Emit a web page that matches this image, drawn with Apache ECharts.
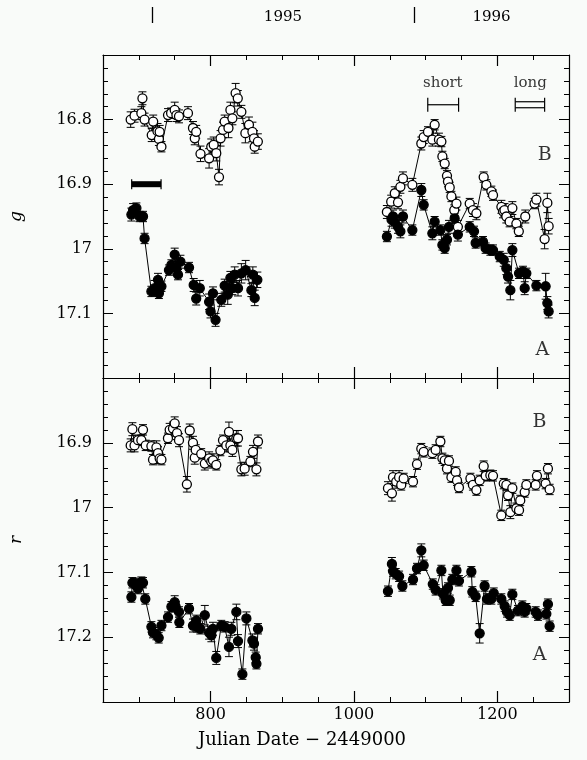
<!DOCTYPE html>
<html>
<head>
<meta charset="utf-8">
<script src="https://cdn.jsdelivr.net/npm/echarts@6/dist/echarts.min.js"></script>
<style>
  html, body { margin: 0; padding: 0; background: #f9fbf9; }
  #chart { width: 587px; height: 760px; }
</style>
</head>
<body>
<div id="chart"></div>
<script>
// Light curves of the two images, [JD - 2449000, magnitude, error]

// g band, image B (open), 1994-95 season
const gB1 = [
  [688.6,16.800,0.012],[694,16.794,0.010],[703.5,16.790,0.010],[705,16.767,0.010],[708,16.800,0.010],
  [718,16.824,0.010],[720,16.803,0.010],[726,16.818,0.012],[728,16.830,0.010],[729,16.819,0.010],
  [731.5,16.842,0.008],[740.7,16.793,0.010],[745,16.790,0.008],[750,16.785,0.012],[752.4,16.793,0.010],
  [756,16.795,0.010],[768.5,16.790,0.010],[775.5,16.813,0.010],[778,16.829,0.010],[780,16.819,0.010],
  [786,16.853,0.012],[798,16.860,0.015],[801,16.842,0.012],[804.4,16.839,0.012],[808,16.852,0.012],
  [811.8,16.889,0.012],[814,16.829,0.012],[817.4,16.816,0.012],[819.7,16.803,0.010],[825,16.813,0.015],
  [827.7,16.785,0.012],[830.5,16.798,0.010],[835,16.759,0.015],[838,16.767,0.012],[843,16.788,0.010],
  [848.6,16.821,0.015],[853.6,16.808,0.012],[858.4,16.819,0.015],[860.6,16.829,0.012],[861.6,16.842,0.010],
  [866,16.834,0.012]
];
// g band, image A (filled), 1994-95 season
const gA1 = [
  [689.6,16.947,0.010],[692,16.940,0.010],[696.6,16.937,0.008],[701,16.950,0.008],[705.8,16.950,0.008],
  [708,16.984,0.008],[717.5,17.066,0.008],[722,17.061,0.012],[726.7,17.048,0.010],[728,17.069,0.008],
  [731.5,17.058,0.008],[742,17.033,0.008],[745.4,17.025,0.008],[750,17.009,0.010],[752.4,17.030,0.010],
  [754.6,17.040,0.008],[758,17.020,0.010],[770,17.029,0.008],[776.5,17.056,0.010],[780,17.077,0.010],
  [785,17.061,0.012],[798,17.082,0.012],[800,17.097,0.010],[803.4,17.069,0.010],[807,17.110,0.010],
  [815,17.079,0.010],[819.7,17.057,0.010],[824,17.071,0.015],[827.7,17.045,0.010],[830.5,17.061,0.010],
  [833.7,17.040,0.012],[838.3,17.061,0.012],[843,17.038,0.015],[849,17.033,0.015],[857,17.064,0.010],
  [859,17.040,0.012],[861.6,17.076,0.012],[865.3,17.048,0.012]
];
// g band, image B (open), 1995-96 season
const gB2 = [
  [1046,16.943,0.010],[1052,16.927,0.010],[1057,16.914,0.010],[1061.5,16.928,0.010],[1064.8,16.904,0.010],
  [1068.4,16.891,0.010],[1081.5,16.901,0.010],[1094,16.837,0.010],[1097.3,16.827,0.010],[1103.3,16.819,0.008],
  [1109.4,16.831,0.010],[1112.6,16.808,0.008],[1118.6,16.831,0.010],[1122,16.834,0.008],[1123.4,16.857,0.008],
  [1126.6,16.868,0.008],[1129.8,16.887,0.008],[1131.2,16.896,0.008],[1133.6,16.905,0.008],[1136,16.919,0.008],
  [1140,16.940,0.008],[1143,16.930,0.010],[1145,16.966,0.010],[1161.5,16.930,0.008],[1166,16.940,0.010],
  [1170.8,16.945,0.010],[1181,16.889,0.008],[1184.7,16.901,0.008],[1191.7,16.911,0.008],[1194,16.917,0.008],
  [1205.7,16.935,0.010],[1208,16.942,0.010],[1210,16.940,0.010],[1212.6,16.950,0.010],[1217.2,16.958,0.008],
  [1221,16.937,0.010],[1226.6,16.961,0.008],[1230,16.973,0.008],[1239,16.950,0.010],[1252,16.930,0.008],
  [1254.5,16.924,0.010],[1266,16.985,0.015],[1269.8,16.929,0.015],[1271.6,16.965,0.012]
];
// g band, image A (filled), 1995-96 season
const gA2 = [
  [1046,16.981,0.008],[1052.5,16.955,0.010],[1054.5,16.950,0.010],[1057,16.958,0.010],[1061.5,16.966,0.010],
  [1064.8,16.973,0.010],[1068.4,16.950,0.010],[1081.5,16.971,0.008],[1094,16.909,0.010],[1097.3,16.932,0.008],
  [1109.4,16.976,0.010],[1112.6,16.958,0.008],[1120.6,16.971,0.008],[1123.4,16.994,0.008],[1126.6,16.999,0.008],
  [1129.8,16.986,0.008],[1132.6,16.966,0.010],[1140.5,16.953,0.008],[1145,16.978,0.010],[1161.5,16.966,0.008],
  [1167.5,16.973,0.008],[1169.8,16.991,0.008],[1180,16.989,0.008],[1183.7,16.999,0.008],[1190.3,17.002,0.008],
  [1194,17.002,0.008],[1203.4,17.012,0.008],[1209,17.017,0.010],[1212.6,17.030,0.010],[1215,17.043,0.010],
  [1218.2,17.064,0.015],[1221,17.002,0.010],[1230.3,17.038,0.008],[1235.8,17.035,0.008],[1238.2,17.061,0.010],
  [1240.5,17.038,0.008],[1254.5,17.057,0.008],[1267.4,17.058,0.020],[1269.8,17.084,0.010],[1271.6,17.097,0.010]
];
// r band, image B (open), 1994-95 season
const rB1 = [
  [688.6,16.904,0.010],[691,16.879,0.010],[694,16.904,0.010],[698.8,16.896,0.008],[703.5,16.896,0.008],
  [705.8,16.880,0.008],[709.6,16.904,0.008],[717.5,16.905,0.008],[719.8,16.926,0.008],[724.5,16.907,0.010],
  [726.7,16.916,0.010],[729,16.924,0.008],[731.5,16.926,0.008],[740.6,16.893,0.008],[743,16.880,0.010],
  [747.6,16.878,0.010],[750,16.870,0.010],[753.2,16.885,0.010],[756,16.896,0.010],[767,16.964,0.012],
  [771,16.881,0.010],[775.5,16.900,0.010],[778,16.923,0.010],[779.3,16.911,0.008],[787,16.917,0.008],
  [792,16.932,0.010],[798,16.924,0.010],[801,16.929,0.010],[803.4,16.927,0.010],[808,16.934,0.008],
  [813.7,16.912,0.008],[817.4,16.896,0.008],[822,16.904,0.010],[825.7,16.883,0.015],[827.7,16.904,0.010],
  [830.5,16.911,0.010],[836,16.893,0.012],[838.3,16.893,0.012],[843,16.941,0.010],[847.6,16.940,0.010],
  [855.6,16.929,0.008],[859.2,16.914,0.010],[864,16.941,0.010],[866.2,16.898,0.010]
];
// r band, image A (filled), 1994-95 season
const rA1 = [
  [689.6,17.138,0.008],[691,17.116,0.008],[695.6,17.117,0.008],[698.8,17.125,0.008],[703.5,17.115,0.008],
  [705.8,17.116,0.008],[709,17.141,0.008],[717.5,17.184,0.008],[719.8,17.193,0.008],[724.5,17.196,0.008],
  [727.7,17.201,0.008],[731.5,17.182,0.008],[740.7,17.169,0.008],[745.4,17.153,0.008],[750,17.146,0.010],
  [751.4,17.153,0.008],[756,17.161,0.008],[756.5,17.177,0.008],[770,17.156,0.008],[775.5,17.182,0.010],
  [780.3,17.174,0.008],[781,17.184,0.008],[785.8,17.187,0.008],[792,17.166,0.015],[798,17.193,0.010],
  [801.2,17.197,0.010],[803.4,17.187,0.010],[808,17.232,0.010],[815,17.182,0.008],[819.7,17.184,0.008],
  [825.7,17.215,0.015],[829,17.187,0.010],[836,17.161,0.012],[838.3,17.206,0.010],[844.4,17.257,0.008],
  [850,17.171,0.010],[858.4,17.205,0.010],[860.6,17.210,0.010],[863,17.231,0.008],[864,17.241,0.008],
  [866.2,17.187,0.008]
];
// r band, image B (open), 1995-96 season
const rB2 = [
  [1047.5,16.970,0.010],[1053,16.978,0.012],[1054.5,16.953,0.010],[1059,16.960,0.010],[1063,16.953,0.010],
  [1066,16.965,0.008],[1069.4,16.955,0.008],[1082.4,16.960,0.008],[1088,16.933,0.008],[1094,16.909,0.008],
  [1097.3,16.914,0.008],[1109.4,16.916,0.008],[1114,16.911,0.008],[1120.6,16.898,0.008],[1123.4,16.924,0.008],
  [1126.6,16.927,0.008],[1129.8,16.940,0.008],[1132.6,16.928,0.008],[1136,16.953,0.008],[1142,16.945,0.008],
  [1143.8,16.958,0.008],[1146.5,16.969,0.008],[1162.5,16.955,0.008],[1166,16.965,0.008],[1170.8,16.973,0.008],
  [1175.4,16.958,0.008],[1181,16.936,0.008],[1183.8,16.951,0.008],[1190.3,16.950,0.008],[1194,16.951,0.008],
  [1205.6,17.012,0.008],[1209,16.963,0.008],[1212.6,16.965,0.008],[1215,16.981,0.008],[1218.2,17.007,0.010],
  [1221,16.970,0.008],[1226.6,17.001,0.008],[1230.3,17.004,0.008],[1232,16.989,0.008],[1238.2,16.976,0.008],
  [1240.5,16.965,0.008],[1253.5,16.965,0.008],[1255.3,16.951,0.008],[1267.4,16.963,0.008],[1270.6,16.940,0.008],
  [1273,16.972,0.008]
];
// r band, image A (filled), 1995-96 season
const rA2 = [
  [1047.5,17.129,0.008],[1053,17.087,0.010],[1054.5,17.098,0.008],[1058.3,17.102,0.008],[1063,17.106,0.008],
  [1067.6,17.121,0.008],[1082.4,17.111,0.008],[1088,17.094,0.008],[1094,17.066,0.010],[1097.3,17.089,0.008],
  [1110,17.118,0.008],[1114,17.127,0.008],[1122,17.097,0.008],[1124.2,17.133,0.008],[1128,17.143,0.008],
  [1131.2,17.124,0.008],[1133.6,17.143,0.008],[1137.3,17.111,0.008],[1143,17.097,0.008],[1146.5,17.113,0.008],
  [1163.8,17.099,0.008],[1165.2,17.130,0.008],[1169.8,17.137,0.008],[1175.4,17.194,0.015],[1182.3,17.121,0.008],
  [1185.6,17.141,0.008],[1191.7,17.141,0.008],[1195,17.132,0.008],[1205.6,17.141,0.008],[1210.3,17.152,0.008],
  [1213.5,17.161,0.008],[1217.3,17.166,0.008],[1221,17.134,0.008],[1228.8,17.159,0.008],[1235,17.152,0.008],
  [1238.2,17.161,0.008],[1240.5,17.156,0.008],[1253.5,17.161,0.008],[1256.7,17.166,0.008],[1268.4,17.164,0.008],
  [1270.6,17.149,0.008],[1273,17.183,0.008]
];

// Axis ticks and labels
const xMajorTicks = [800, 1000, 1200];
const yearStarts = [718.5, 1083.5];
const yearNames = ['1995', '1996'];
const yearLabelAt = [901, 1192];

// Time-scale markers: [start, end] in JD - 2449000
const spanShort = [1103, 1146];
const spanLong = [1225, 1266];
const spanGap = [690, 731];

const INK = '#000';
const SERIF = '"DejaVu Serif", "Liberation Serif", serif';

function xAxes(grid, withLabels) {
  const base = { gridIndex: grid, type: 'value', min: 650, max: 1300, splitLine: { show: false } };
  const line = { show: true, onZero: false, lineStyle: { color: INK, width: 1.2 } };
  const minor = pos => Object.assign({}, base, {
    position: pos, interval: 50, axisLine: line,
    axisTick: { inside: true, length: 5, lineStyle: { color: INK, width: 1 } },
    axisLabel: { show: false }
  });
  const major = pos => Object.assign({}, base, {
    position: pos, axisLine: { show: false },
    axisTick: { inside: true, length: 11, customValues: xMajorTicks, lineStyle: { color: INK, width: 1.2 } },
    axisLabel: (withLabels && pos === 'bottom')
      ? { show: true, customValues: xMajorTicks, margin: 5, color: INK, fontFamily: SERIF, fontSize: 16,
          formatter: v => String(Math.round(v)) }
      : { show: false },
    name: (withLabels && pos === 'bottom') ? 'Julian Date \u2212 2449000' : '',
    nameLocation: 'middle', nameGap: 29,
    nameTextStyle: { color: INK, fontFamily: SERIF, fontSize: 18, padding: [0, 68, 0, 0] }
  });
  return [minor('bottom'), major('bottom'), minor('top'), major('top')];
}

function yAxes(grid, min, max, name) {
  const common = {
    gridIndex: grid, type: 'value', inverse: true, min: min, max: max, interval: 0.1,
    splitLine: { show: false },
    axisLine: { show: true, onZero: false, lineStyle: { color: INK, width: 1.2 } },
    axisTick: { inside: true, length: 10, lineStyle: { color: INK, width: 1 } },
    minorTick: { show: true, splitNumber: 5, length: 5, lineStyle: { color: INK, width: 1 } }
  };
  return [
    Object.assign({}, common, {
      position: 'left',
      axisLabel: {
        showMinLabel: false, showMaxLabel: false, margin: 11, color: INK,
        fontFamily: SERIF, fontSize: 16, formatter: v => String(+(+v).toFixed(1))
      },
      name: name, nameLocation: 'middle', nameGap: 78, nameRotate: 90,
      nameTextStyle: { color: INK, fontFamily: SERIF, fontSize: 17, fontStyle: 'italic' }
    }),
    Object.assign({}, common, { position: 'right', axisLabel: { show: false } })
  ];
}

const yearAxis = {
  gridIndex: 0, type: 'value', min: 650, max: 1300, position: 'top', offset: 32,
  splitLine: { show: false }, axisLine: { show: false },
  axisTick: { inside: false, length: 16, customValues: yearStarts, lineStyle: { color: INK, width: 1.3 } },
  axisLabel: {
    show: true, customValues: yearLabelAt, margin: -2, color: INK, fontFamily: SERIF, fontSize: 15,
    formatter: v => { const i = yearLabelAt.indexOf(v); return i >= 0 ? yearNames[i] : ''; }
  }
};

const xAxisList = xAxes(0, false).concat([yearAxis]).concat(xAxes(1, true));
const X_TOP = 0, X_BOT = 5;
const yAxisList = yAxes(0, 16.7, 17.2, 'g').concat(yAxes(1, 16.8, 17.3, 'r'));
const Y_TOP = 0, Y_BOT = 2;

function errorBars(data, xi, yi) {
  return {
    type: 'custom', xAxisIndex: xi, yAxisIndex: yi, z: 1, silent: true,
    data: data, encode: { x: 0, y: 1 },
    renderItem: (params, api) => {
      const x = api.value(0), y = api.value(1), e = api.value(2);
      const a = api.coord([x, y - e]), b = api.coord([x, y + e]);
      const st = { stroke: INK, lineWidth: 1 };
      return {
        type: 'group', children: [
          { type: 'line', shape: { x1: a[0], y1: a[1], x2: b[0], y2: b[1] }, style: st },
          { type: 'line', shape: { x1: a[0] - 4, y1: a[1], x2: a[0] + 4, y2: a[1] }, style: st },
          { type: 'line', shape: { x1: b[0] - 4, y1: b[1], x2: b[0] + 4, y2: b[1] }, style: st }
        ]
      };
    }
  };
}

function curve(data, xi, yi, filled) {
  return {
    type: 'line', xAxisIndex: xi, yAxisIndex: yi, z: 3, silent: true,
    data: data.map(d => [d[0], d[1]]),
    symbol: 'circle', symbolSize: 9, showAllSymbol: true,
    lineStyle: { color: INK, width: 1 },
    itemStyle: { color: filled ? INK : '#fff', borderColor: INK, borderWidth: 1.3 },
    emphasis: { disabled: true }
  };
}

// Horizontal time-scale markers drawn in data space
function spanMarker(span, level, style) {
  return {
    type: 'custom', xAxisIndex: X_TOP, yAxisIndex: Y_TOP, z: 4, silent: true,
    data: [span], encode: { x: [0, 1] },
    renderItem: (params, api) => {
      const a = api.coord([api.value(0), level]), b = api.coord([api.value(1), level]);
      const st = { stroke: INK, lineWidth: 1.2 };
      const kids = [];
      if (style === 'thick') {
        kids.push({ type: 'line', shape: { x1: a[0], y1: a[1], x2: b[0], y2: b[1] }, style: { stroke: INK, lineWidth: 6 } });
        kids.push({ type: 'line', shape: { x1: a[0], y1: a[1] - 5, x2: a[0], y2: a[1] + 5 }, style: st });
        kids.push({ type: 'line', shape: { x1: b[0], y1: b[1] - 5, x2: b[0], y2: b[1] + 5 }, style: st });
      } else if (style === 'double') {
        kids.push({ type: 'line', shape: { x1: a[0], y1: a[1] - 3, x2: b[0], y2: b[1] - 3 }, style: st });
        kids.push({ type: 'line', shape: { x1: a[0], y1: a[1] + 3, x2: b[0], y2: b[1] + 3 }, style: st });
        kids.push({ type: 'line', shape: { x1: a[0], y1: a[1] - 7, x2: a[0], y2: a[1] + 7 }, style: st });
        kids.push({ type: 'line', shape: { x1: b[0], y1: b[1] - 7, x2: b[0], y2: b[1] + 7 }, style: st });
      } else {
        kids.push({ type: 'line', shape: { x1: a[0], y1: a[1], x2: b[0], y2: b[1] }, style: st });
        kids.push({ type: 'line', shape: { x1: a[0], y1: a[1] - 7, x2: a[0], y2: a[1] + 7 }, style: st });
        kids.push({ type: 'line', shape: { x1: b[0], y1: b[1] - 7, x2: b[0], y2: b[1] + 7 }, style: st });
      }
      return { type: 'group', children: kids };
    }
  };
}

function textTags(items, xi, yi, size) {
  return {
    type: 'scatter', xAxisIndex: xi, yAxisIndex: yi, z: 5, silent: true,
    symbolSize: 1, itemStyle: { color: 'rgba(0,0,0,0)' },
    data: items.map(t => ({ name: t[0], value: [t[1], t[2]] })),
    label: { show: true, position: 'inside', formatter: p => p.name, color: INK, fontFamily: SERIF, fontSize: size }
  };
}

const series = [
  errorBars(gB1, X_TOP, Y_TOP), errorBars(gA1, X_TOP, Y_TOP),
  errorBars(gB2, X_TOP, Y_TOP), errorBars(gA2, X_TOP, Y_TOP),
  errorBars(rB1, X_BOT, Y_BOT), errorBars(rA1, X_BOT, Y_BOT),
  errorBars(rB2, X_BOT, Y_BOT), errorBars(rA2, X_BOT, Y_BOT),
  curve(gB1, X_TOP, Y_TOP, false), curve(gA1, X_TOP, Y_TOP, true),
  curve(gB2, X_TOP, Y_TOP, false), curve(gA2, X_TOP, Y_TOP, true),
  curve(rB1, X_BOT, Y_BOT, false), curve(rA1, X_BOT, Y_BOT, true),
  curve(rB2, X_BOT, Y_BOT, false), curve(rA2, X_BOT, Y_BOT, true),
  spanMarker(spanShort, 16.777, 'single'),
  spanMarker(spanLong, 16.777, 'double'),
  spanMarker(spanGap, 16.9, 'thick'),
  textTags([['short', 1124, 16.743], ['long', 1246, 16.743]], X_TOP, Y_TOP, 15),
  textTags([['B', 1266, 16.855], ['A', 1263, 17.156]], X_TOP, Y_TOP, 19),
  textTags([['B', 1259, 16.868], ['A', 1259, 17.228]], X_BOT, Y_BOT, 19)
];

const chart = echarts.init(document.getElementById('chart'), null, { renderer: 'canvas' });
chart.setOption({
  backgroundColor: '#f9fbf9',
  animation: false,
  grid: [
    { left: 103, right: 18, top: 55, height: 323 },
    { left: 103, right: 18, top: 378, height: 324 }
  ],
  xAxis: xAxisList,
  yAxis: yAxisList,
  series: series
});
</script>
</body>
</html>
